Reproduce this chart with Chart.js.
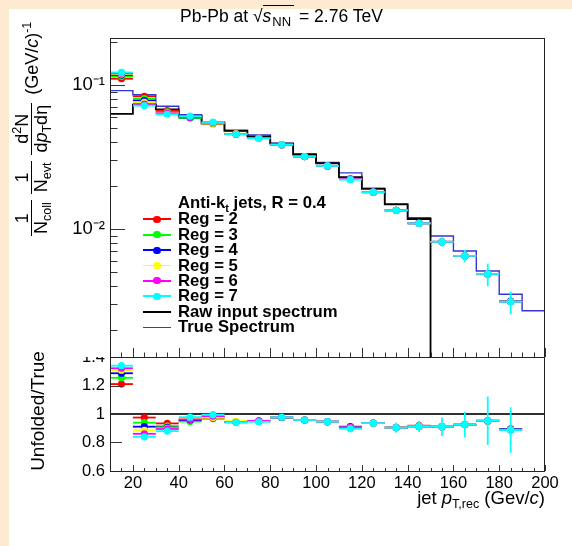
<!DOCTYPE html>
<html>
<head>
<meta charset="utf-8">
<title>Unfolded jet spectrum</title>
<script src="https://cdn.jsdelivr.net/npm/chart.js@4.4.1/dist/chart.umd.min.js"></script>
<style>
  html, body { margin:0; padding:0; }
  body { width:572px; height:546px; position:relative; overflow:hidden; background:#fdead0;
         font-family:"Liberation Sans", Arial, Helvetica, sans-serif; color:#000; }
  #panel { position:absolute; left:9px; top:9px; width:563px; height:537px; background:#fff; }
  canvas { position:absolute; left:0; }
  #c1 { top:0; z-index:2; }
  #c2 { top:357px; z-index:1; }
  .t { position:absolute; white-space:nowrap; z-index:5; line-height:20px; }
  .t sub { font-size:12.5px; vertical-align:-4px; line-height:0; }
  .t sup { font-size:12.5px; vertical-align:7px; line-height:0; }
  #title { left:180px; top:6px; font-size:17.5px; }
  #title .ov { border-top:1px solid #000; padding-top:0px; }
  #title sub { font-size:13px; margin-left:1px; padding-right:3px; }
  #ytitle { left:0; top:0; font-size:18px; line-height:18px; transform-origin:0 0;
            transform:translate(13px,239px) rotate(-90deg); display:flex; align-items:center; }
  .frac { display:inline-flex; flex-direction:column; align-items:center; margin:0 3px; }
  .frac .num { padding:0 2px; }
  .frac .den { border-top:1.5px solid #000; padding:0 2px; }
  #rtitle { left:0; top:0; width:160px; text-align:center; font-size:19px;
            transform-origin:0 0; transform:translate(28px,491px) rotate(-90deg); }
  #xtitle { right:27px; top:488px; font-size:18.5px; }
  .lg { position:absolute; z-index:5; }
  .lgt { position:absolute; z-index:5; white-space:nowrap; font-weight:bold; font-size:16.7px; line-height:20px; }
  .lgt sub { font-size:11px; vertical-align:-4px; line-height:0; }
</style>
</head>
<body>
<div id="panel"></div>
<canvas id="c2" width="572" height="189"></canvas>
<canvas id="c1" width="572" height="358"></canvas>
<div class="t" id="title">Pb-Pb at <span class="sq">&#8730;<span class="ov"><i>s</i><sub>NN</sub></span></span> = 2.76 TeV</div>
<div class="t" id="ytitle">
  <span class="frac"><span class="num">1</span><span class="den">N<sub>coll</sub></span></span>
  <span class="frac"><span class="num">1</span><span class="den">N<sub>evt</sub></span></span>
  <span class="frac"><span class="num">d<sup>2</sup>N</span><span class="den">d<i>p</i><sub>T</sub>d&#951;</span></span>
  <span>&nbsp;(GeV/<i>c</i>)<sup>-1</sup></span>
</div>
<div class="t" id="rtitle">Unfolded/True</div>
<div class="t" id="xtitle">jet <i>p</i><sub>T,rec</sub> (Gev/<i>c</i>)</div>
<div id="legend"></div>
<script>
// ---------------- data ----------------
const binEdges   = [10,20,30,40,50,60,70,80,90,100,110,120,130,140,150,160,170,180,190,200];
const binCenters = [15,25,35,45,55,65,75,85,95,105,115,125,135,145,155,165,175,185];

// True spectrum (blue histogram), bins 10-200
const trueSpectrum = [0.0913, 0.0856, 0.0711, 0.0622, 0.0556, 0.0483, 0.0450, 0.0394, 0.0332, 0.0290,
                      0.0245, 0.0192, 0.0149, 0.01198, 0.00893, 0.00703, 0.00511, 0.00352, 0.00270];
// Raw input spectrum (black histogram), bins 10-150
const rawSpectrum  = [0.0629, 0.0730, 0.0678, 0.0609, 0.0542, 0.0481, 0.0440, 0.0391, 0.0329, 0.0286,
                      0.0229, 0.0190, 0.0148, 0.01173];

// Unfolded spectra
const specReg2 = [0.1105, 0.0835, 0.0664, 0.0592, 0.0538, 0.0456, 0.0428, 0.0384, 0.0318, 0.0274, 0.0223, 0.0180, 0.01348, 0.01100, 0.00814, 0.00650, 0.00485, 0.00313];
const specReg3 = [0.1145, 0.0804, 0.0651, 0.0589, 0.0542, 0.0456, 0.0428, 0.0385, 0.0318, 0.0274, 0.0222, 0.0180, 0.01348, 0.01094, 0.00814, 0.00650, 0.00485, 0.00313];
const specReg4 = [0.1174, 0.0780, 0.0643, 0.0596, 0.0545, 0.0456, 0.0428, 0.0385, 0.0318, 0.0274, 0.0223, 0.0180, 0.01347, 0.01094, 0.00814, 0.00650, 0.00487, 0.00315];
const specReg5 = [0.1193, 0.0758, 0.0640, 0.0601, 0.0542, 0.0459, 0.0427, 0.0385, 0.0318, 0.0274, 0.0222, 0.0180, 0.01347, 0.01094, 0.00814, 0.00650, 0.00487, 0.00313];
const specReg6 = [0.1206, 0.0737, 0.0636, 0.0598, 0.0548, 0.0455, 0.0428, 0.0385, 0.0318, 0.0274, 0.0222, 0.0180, 0.01347, 0.01094, 0.00814, 0.00650, 0.00487, 0.00312];
const specReg7 = [0.1222, 0.0719, 0.0626, 0.0608, 0.0553, 0.0454, 0.0425, 0.0385, 0.0318, 0.0274, 0.0220, 0.0180, 0.01347, 0.01094, 0.00814, 0.00650, 0.00487, 0.00312];
const errSpecReg7 = [0.0012, 0.0008, 0.0006, 0.0006, 0.0008, 0.0005, 0.0005, 0.0004, 0.0004, 0.0004, 0.0006, 0.0005, 0.0005, 0.0005, 0.00058, 0.00063, 0.00087, 0.00056];

// Unfolded / True ratios
const ratioReg2 = [1.210, 0.975, 0.934, 0.952, 0.968, 0.945, 0.950, 0.975, 0.958, 0.946, 0.911, 0.936, 0.905, 0.918, 0.911, 0.925, 0.950, 0.890];
const ratioReg3 = [1.254, 0.939, 0.915, 0.947, 0.975, 0.945, 0.950, 0.976, 0.958, 0.946, 0.908, 0.936, 0.905, 0.913, 0.911, 0.925, 0.950, 0.890];
const ratioReg4 = [1.286, 0.911, 0.905, 0.958, 0.980, 0.945, 0.951, 0.976, 0.958, 0.946, 0.910, 0.936, 0.904, 0.913, 0.911, 0.925, 0.953, 0.895];
const ratioReg5 = [1.307, 0.885, 0.900, 0.966, 0.975, 0.950, 0.948, 0.977, 0.958, 0.946, 0.905, 0.936, 0.904, 0.913, 0.911, 0.925, 0.953, 0.890];
const ratioReg6 = [1.321, 0.861, 0.895, 0.962, 0.985, 0.942, 0.952, 0.977, 0.958, 0.946, 0.905, 0.936, 0.904, 0.913, 0.911, 0.925, 0.953, 0.887];
const ratioReg7 = [1.339, 0.840, 0.880, 0.978, 0.995, 0.940, 0.945, 0.977, 0.958, 0.946, 0.897, 0.936, 0.904, 0.913, 0.911, 0.925, 0.953, 0.887];
const errRatioReg7 = [0.012, 0.010, 0.010, 0.012, 0.025, 0.010, 0.010, 0.010, 0.012, 0.015, 0.025, 0.025, 0.035, 0.040, 0.065, 0.090, 0.170, 0.160];

const regLabels = ['Reg = 2', 'Reg = 3', 'Reg = 4', 'Reg = 5', 'Reg = 6', 'Reg = 7'];
const regColors = ['#ff0000', '#00ff00', '#0000ff', '#ffff00', '#ff00ff', '#00ffff'];
const rawLabel = 'Raw input spectrum', trueLabel = 'True Spectrum';

// axes
const X_MIN = 10, X_MAX = 200;
const Y_MIN = 0.00129, Y_MAX = 0.212;
const R_MIN = 0.6, R_MAX = 1.4, UNITY = 1;
const xTickValues = [20, 40, 60, 80, 100, 120, 140, 160, 180, 200];
const xTickLabels = ['20', '40', '60', '80', '100', '120', '140', '160', '180', '200'];
const topTickValues = [0.01, 0.1];
const topTickLabels = ['10\u207B\u00B2', '10\u207B\u00B9'];
const topMinorTicks = [0.002,0.003,0.004,0.005,0.006,0.007,0.008,0.009,0.02,0.03,0.04,0.05,0.06,0.07,0.08,0.09,0.2];
const ratioTickValues = [0.6, 0.8, 1, 1.2, 1.4];
const ratioTickLabels = ['0.6', '0.8', '1', '1.2', '1.4'];
const xMinorTicks = [];
for (let v = 15; v < X_MAX; v += 5) if (v % 20 !== 0) xMinorTicks.push(v);

// --------------- plugins ---------------
const errorBars = {
  id: 'errorBars',
  beforeDatasetDraw(chart, args) {
    const ds = chart.data.datasets[args.index];
    if (!ds.binLo) return;
    const xs = chart.scales.x, ys = chart.scales.y, ctx = chart.ctx, a = chart.chartArea;
    ctx.save();
    ctx.beginPath(); ctx.rect(a.left, a.top, a.right - a.left, a.bottom - a.top); ctx.clip();
    ctx.strokeStyle = ds.pointBackgroundColor; ctx.lineWidth = 1.8;
    ds.data.forEach((p, i) => {
      const py = ys.getPixelForValue(p.y);
      ctx.beginPath();
      ctx.moveTo(xs.getPixelForValue(ds.binLo[i]), py);
      ctx.lineTo(xs.getPixelForValue(ds.binHi[i]), py);
      ctx.stroke();
      if (ds.yErr && ds.yErr[i]) {
        const px = xs.getPixelForValue(p.x);
        ctx.beginPath();
        ctx.moveTo(px, ys.getPixelForValue(p.y - ds.yErr[i]));
        ctx.lineTo(px, ys.getPixelForValue(p.y + ds.yErr[i]));
        ctx.stroke();
      }
    });
    ctx.restore();
  }
};

const axisDecor = {
  id: 'axisDecor',
  afterDatasetsDraw(chart, args, o) {
    const {ctx, chartArea: a} = chart;
    const xs = chart.scales.x, ys = chart.scales.y;
    ctx.save();
    ctx.lineWidth = 1;
    ctx.strokeStyle = '#333';
    const seg = (x1, y1, x2, y2) => { ctx.beginPath(); ctx.moveTo(x1, y1); ctx.lineTo(x2, y2); ctx.stroke(); };
    const px = v => Math.round(xs.getPixelForValue(v)) + 0.5;
    const py = v => Math.round(ys.getPixelForValue(v)) + 0.5;
    (o.xMajor || []).forEach(v => seg(px(v), a.bottom, px(v), a.bottom - o.xMajorLen));
    (o.xMinor || []).forEach(v => seg(px(v), a.bottom, px(v), a.bottom - o.xMinorLen));
    (o.yMajor || []).forEach(v => seg(a.left, py(v), a.left + o.yMajorLen, py(v)));
    (o.yMinor || []).forEach(v => seg(a.left, py(v), a.left + o.yMinorLen, py(v)));
    ctx.strokeStyle = '#222';
    ctx.strokeRect(Math.round(a.left) + 0.5, Math.round(a.top) + 0.5,
                   Math.round(a.right - a.left) - 1, Math.round(a.bottom - a.top));
    ctx.restore();
  }
};

Chart.defaults.font.family = '"Liberation Sans", Arial, sans-serif';
Chart.defaults.color = '#000';

function histPoints(values, edges, floor, dropAtEnd) {
  const pts = [{x: edges[0], y: floor}];
  values.forEach((v, i) => pts.push({x: edges[i], y: v}));
  const n = values.length;
  pts.push({x: edges[n], y: values[n - 1]});
  if (dropAtEnd) pts.push({x: edges[n], y: floor});
  return pts;
}

// --------------- top pad ---------------
const specReg = [specReg2, specReg3, specReg4, specReg5, specReg6, specReg7];
const specErr = [null, null, null, null, null, errSpecReg7];
const ratioReg = [ratioReg2, ratioReg3, ratioReg4, ratioReg5, ratioReg6, ratioReg7];
const ratioErr = [null, null, null, null, null, errRatioReg7];

function regDatasets(valuesList, errList) {
  return regLabels.map((lab, k) => ({
    label: lab,
    data: binCenters.map((x, i) => ({x: x, y: valuesList[k][i]})),
    showLine: false,
    pointRadius: 3.6, pointHoverRadius: 3.6, pointBorderWidth: 0,
    pointBackgroundColor: regColors[k], borderColor: regColors[k], backgroundColor: regColors[k],
    binLo: binEdges.slice(0, binCenters.length), binHi: binEdges.slice(1, binCenters.length + 1),
    yErr: errList[k],
    order: 6 - k
  }));
}

const topDatasets = regDatasets(specReg, specErr).concat([
  { label: rawLabel, data: histPoints(rawSpectrum, binEdges, Y_MIN, true), stepped: 'before',
    borderColor: '#000000', backgroundColor: '#000000', borderWidth: 1.8, pointRadius: 0, fill: false, order: 7 },
  { label: trueLabel, data: histPoints(trueSpectrum, binEdges, Y_MIN, false), stepped: 'before',
    borderColor: '#3535d0', backgroundColor: '#3535d0', borderWidth: 1.4, pointRadius: 0, fill: false, order: 8 }
]);

const tickFont = { family: '"Liberation Sans", Arial, sans-serif', size: 16.5 };
const logTickFont = { family: '"Liberation Sans", Arial, sans-serif', size: 18.5 };

new Chart(document.getElementById('c1'), {
  type: 'line',
  data: { datasets: topDatasets },
  options: {
    responsive: false, animation: false, devicePixelRatio: 1, events: [],
    layout: { autoPadding: false, padding: { left: 0, right: 27, top: 38, bottom: 1 } },
    plugins: {
      legend: { display: false }, tooltip: { enabled: false },
      axisDecor: { xMajor: xTickValues, xMinor: xMinorTicks, xMajorLen: 9, xMinorLen: 4.5,
                   yMajor: topTickValues, yMinor: topMinorTicks, yMajorLen: 15, yMinorLen: 7.5 }
    },
    scales: {
      x: { type: 'linear', min: X_MIN, max: X_MAX, display: false },
      y: { type: 'logarithmic', min: Y_MIN, max: Y_MAX,
           afterBuildTicks: s => { s.ticks = topTickValues.map(v => ({ value: v })); },
           afterFit: s => { s.width = 110; s.paddingTop = 0; s.paddingBottom = 0; },
           ticks: { callback: (v, i) => topTickLabels[i], font: logTickFont, color: '#000', padding: 5, autoSkip: false },
           grid: { display: false, drawTicks: false }, border: { display: false } }
    }
  },
  plugins: [errorBars, axisDecor]
});

// --------------- ratio pad ---------------
const ratioDatasets = regDatasets(ratioReg, ratioErr).concat([
  { label: 'Unity', data: [{x: X_MIN, y: UNITY}, {x: X_MAX, y: UNITY}],
    borderColor: '#303030', borderWidth: 2, pointRadius: 0, fill: false, order: 9 }
]);

new Chart(document.getElementById('c2'), {
  type: 'line',
  data: { datasets: ratioDatasets },
  options: {
    responsive: false, animation: false, devicePixelRatio: 1, events: [],
    layout: { autoPadding: false, padding: { left: 0, right: 27, top: 0, bottom: 0 } },
    plugins: {
      legend: { display: false }, tooltip: { enabled: false },
      axisDecor: { xMajor: xTickValues, xMinor: xMinorTicks, xMajorLen: 6, xMinorLen: 3,
                   yMajor: ratioTickValues, yMinor: [], yMajorLen: 12, yMinorLen: 0 }
    },
    scales: {
      x: { type: 'linear', min: X_MIN, max: X_MAX,
           afterBuildTicks: s => { s.ticks = xTickValues.map(v => ({ value: v })); },
           afterFit: s => { s.height = 75; s.paddingLeft = 0; s.paddingRight = 0; },
           ticks: { callback: (v, i) => xTickLabels[i], font: tickFont, color: '#000', padding: 3,
                    maxRotation: 0, autoSkip: false },
           grid: { display: false, drawTicks: false }, border: { display: false } },
      y: { type: 'linear', min: R_MIN, max: R_MAX,
           afterBuildTicks: s => { s.ticks = ratioTickValues.map(v => ({ value: v })); },
           afterFit: s => { s.width = 110; s.paddingTop = 0; s.paddingBottom = 0; },
           ticks: { callback: (v, i) => ratioTickLabels[i], font: tickFont, color: '#000', padding: 5, autoSkip: false },
           grid: { display: false, drawTicks: false }, border: { display: false } }
    }
  },
  plugins: [errorBars, axisDecor]
});

// --------------- legend (HTML text) ---------------
(function buildLegend() {
  const root = document.getElementById('legend');
  const add = (html, cls, style) => { const d = document.createElement('div'); d.className = cls; d.innerHTML = html; Object.assign(d.style, style); root.appendChild(d); return d; };
  add('Anti-k<sub>t</sub> jets, R = 0.4', 'lgt', { left: '178px', top: '193px' });
  const items = regLabels.map((l, k) => ({ label: l, color: regColors[k], point: true, w: 1.8 }))
    .concat([{ label: rawLabel, color: '#000', point: false, w: 1.8 }, { label: trueLabel, color: '#3535d0', point: false, w: 1.2 }]);
  items.forEach((it, i) => {
    const yc = 219.3 + i * 15.4;
    add('', 'lg', { left: '143px', top: (yc - it.w / 2) + 'px', width: '28px', height: it.w + 'px', background: it.color });
    if (it.point) add('', 'lg', { left: '153.4px', top: (yc - 3.6) + 'px', width: '7.2px', height: '7.2px', borderRadius: '50%', background: it.color });
    add(it.label, 'lgt', { left: '178px', top: (yc - 10) + 'px' });
  });
})();
</script>
</body>
</html>
